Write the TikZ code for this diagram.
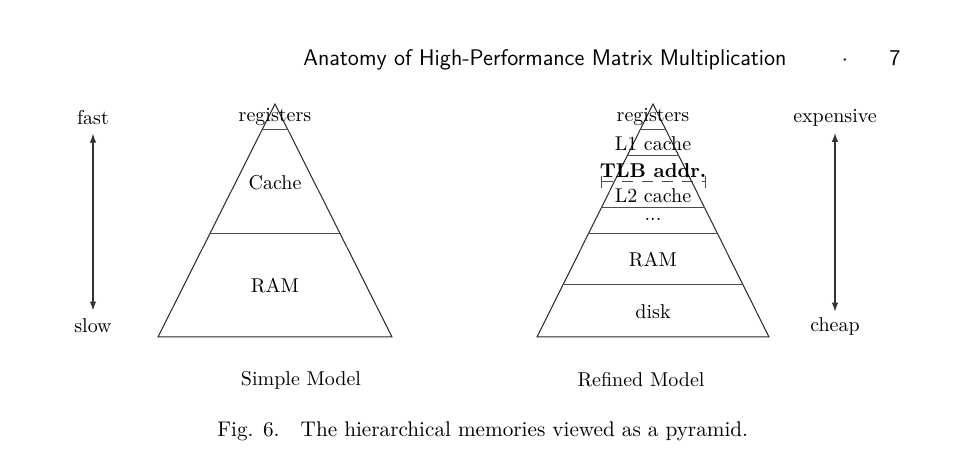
\documentclass[tikz,border=0pt]{standalone}
\usetikzlibrary{arrows.meta}
\begin{document}
\begin{tikzpicture}[x=0.5pt,y=-0.5pt,
  lbl/.style={inner sep=0pt,font=\normalsize},
  hdrf/.style={inner sep=0pt,font=\sffamily\fontsize{11.3}{13}\selectfont},
  pyr/.style={draw=black!85,line width=0.5pt},
  lev/.style={draw=black!70,line width=0.5pt},
  dbl/.style={draw=black!80,line width=0.55pt,{Latex[length=4.5pt,width=3.2pt]}-{Latex[length=4.5pt,width=3.2pt]}},
  tlb/.style={draw=black!70,line width=0.5pt,dash pattern=on 5.5pt off 4.5pt,{Bar[width=6pt]}-{Bar[width=6pt]}}]
\useasboundingbox (0,0) rectangle (971,459);
% header
\node[hdrf,anchor=base west] (hdr) at (303,66) {Anatomy of High-Performance Matrix Multiplication};
\node[hdrf,anchor=base] (dot) at (845,66) {$\cdot$};
\node[hdrf,anchor=base] (pg) at (895,66) {7};
% left arrow
\node[lbl] (fast) at (93,118) {fast};
\node[lbl] (slow) at (93,326) {slow};
\draw[dbl] ([yshift=-4pt]fast.south) -- ([yshift=4pt]slow.north);
% left pyramid
\coordinate (LA) at (275,104);
\coordinate (LB) at (158,337);
\coordinate (LC) at (392,337);
\draw[pyr] (LB) -- (LA) -- (LC) -- cycle;
\draw[lev] (262,130) -- (288,130);
\draw[lev] (209.5,234) -- (340.5,234);
\node[lbl] (lreg) at (275,117) {registers};
\node[lbl] (lcache) at (275,183) {Cache};
\node[lbl] (lram) at (275,286) {RAM};
\node[lbl] (simple) at (301,380) {Simple Model};
% right pyramid
\coordinate (RA) at (653,104);
\coordinate (RB) at (537,337);
\coordinate (RC) at (769,337);
\draw[pyr] (RB) -- (RA) -- (RC) -- cycle;
\draw[lev] (640,130) -- (666,130);
\draw[lev] (627,156) -- (679,156);
\draw[lev] (601,208) -- (705,208);
\draw[lev] (588,234) -- (718,234);
\draw[lev] (563,285) -- (743,285);
\coordinate (tl) at (601,182);
\coordinate (tr) at (706,182);
\draw[tlb] (tl) -- (tr);
\node[lbl] (rreg) at (653,117) {registers};
\node[lbl] (l1) at (653,144) {L1 cache};
\node[lbl,font=\bfseries] (tlbn) at (653,171) {TLB addr.};
\node[lbl] (l2) at (653,196) {L2 cache};
\node[lbl] (dots) at (653,219) {...};
\node[lbl] (rram) at (653,260) {RAM};
\node[lbl] (disk) at (653,312) {disk};
\node[lbl] (refined) at (641,380) {Refined Model};
% right arrow
\node[lbl] (exp) at (835,118) {expensive};
\node[lbl] (cheap) at (835,327) {cheap};
\draw[dbl] ([yshift=-3pt]exp.south) -- ([yshift=3pt]cheap.north);
% caption
\node[lbl,font=\fontsize{10.6}{12.5}\selectfont,anchor=base west] (cap) at (217,437) {Fig. 6.\quad The hierarchical memories viewed as a pyramid.};
\end{tikzpicture}
\end{document}
